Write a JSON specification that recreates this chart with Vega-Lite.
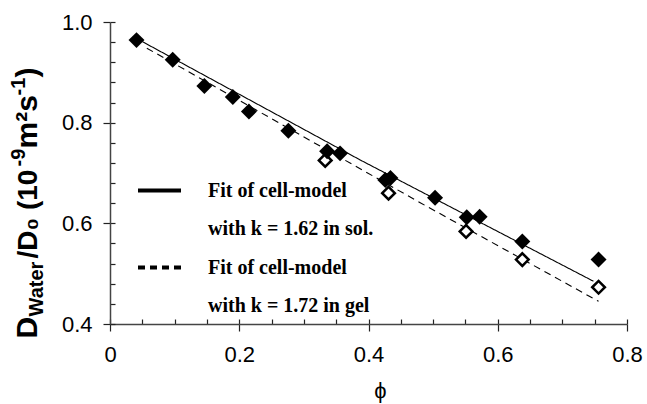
{
  "$schema": "https://vega.github.io/schema/vega-lite/v6.json",
  "width": 517,
  "height": 302,
  "autosize": {"type": "none"},
  "padding": {"left": 110, "top": 22, "right": 20, "bottom": 80},
  "background": "white",
  "config": {
    "view": {"stroke": null},
    "axis": {"grid": false, "domainColor": "#444", "domainWidth": 1.5, "tickColor": "#222", "tickWidth": 1.2, "labelColor": "black", "titleColor": "black",
      "titleFont": "Liberation Sans", "titleFontWeight": "bold"}
  },
  "datasets": {
    "sol": [
      {"phi": 0.041, "D": 0.964}, {"phi": 0.097, "D": 0.925}, {"phi": 0.146, "D": 0.873},
      {"phi": 0.190, "D": 0.851}, {"phi": 0.215, "D": 0.822}, {"phi": 0.276, "D": 0.784},
      {"phi": 0.336, "D": 0.743}, {"phi": 0.356, "D": 0.739}, {"phi": 0.426, "D": 0.686},
      {"phi": 0.434, "D": 0.690}, {"phi": 0.503, "D": 0.651}, {"phi": 0.552, "D": 0.612},
      {"phi": 0.572, "D": 0.613}, {"phi": 0.638, "D": 0.564}, {"phi": 0.756, "D": 0.528}
    ],
    "gel": [
      {"phi": 0.333, "D": 0.725}, {"phi": 0.431, "D": 0.660}, {"phi": 0.551, "D": 0.584},
      {"phi": 0.638, "D": 0.528}, {"phi": 0.756, "D": 0.473}
    ],
    "fits": [
      {"series": "sol", "model": "with k = 1.62 in sol.", "phi": 0.05, "D": 0.961},
      {"series": "sol", "model": "with k = 1.62 in sol.", "phi": 0.387, "D": 0.726},
      {"series": "sol", "model": "with k = 1.62 in sol.", "phi": 0.748, "D": 0.485},
      {"series": "gel", "model": "with k = 1.72 in gel", "phi": 0.057, "D": 0.948},
      {"series": "gel", "model": "with k = 1.72 in gel", "phi": 0.48, "D": 0.641},
      {"series": "gel", "model": "with k = 1.72 in gel", "phi": 0.756, "D": 0.445}
    ]
  },
  "layer": [
    {
      "data": {"name": "fits"},
      "transform": [{"filter": "datum.series === 'sol'"}],
      "mark": {"type": "line", "strokeWidth": 1.1},
      "encoding": {
        "x": {"field": "phi", "type": "quantitative", "scale": {"domain": [0, 0.8], "nice": false, "zero": false},
          "axis": {"orient": "bottom", "domain": false, "ticks": false, "labels": false,
            "title": "m²s", "titleFontSize": 30, "titleAngle": 270, "titleAlign": "left", "titleBaseline": "alphabetic", "titleX": -74, "titleY": -176}},
        "y": {"field": "D", "type": "quantitative", "scale": {"domain": [0.4, 1.0], "nice": false, "zero": false},
          "axis": {"orient": "left", "domain": false, "ticks": false, "labels": false,
            "title": "-9", "titleFontSize": 20, "titleAngle": 270, "titleAlign": "left", "titleBaseline": "alphabetic", "titleX": -86, "titleY": 144}},
        "strokeDash": {"field": "series", "type": "nominal",
          "scale": {"domain": ["sol", "gel"], "range": [[1, 0], [7, 5]]},
          "legend": {"orient": "none", "legendX": 26, "legendY": 145, "padding": 0, "title": null,
            "symbolType": "stroke", "symbolSize": 1849, "symbolStrokeWidth": 4, "symbolStrokeColor": "black",
            "labelExpr": "'Fit of cell-model'", "labelFont": "Liberation Serif", "labelFontWeight": "bold",
            "labelFontSize": 20, "labelColor": "black", "labelOffset": 25, "labelLimit": 400, "rowPadding": 43,
            "encode": {"symbols": {"update": {"strokeDash": {"signal": "datum.value === 'gel' ? [3, 3] : [1, 0]"}}}}}},
        "color": {"field": "model", "type": "nominal",
          "scale": {"domain": ["with k = 1.62 in sol.", "with k = 1.72 in gel"], "range": ["black", "black"]},
          "legend": {"orient": "none", "legendX": 26, "legendY": 183, "padding": 0, "title": null,
            "symbolType": "stroke", "symbolSize": 1849, "symbolStrokeWidth": 4, "symbolOpacity": 0,
            "labelFont": "Liberation Serif", "labelFontWeight": "bold",
            "labelFontSize": 20, "labelColor": "black", "labelOffset": 25, "labelLimit": 400, "rowPadding": 43}}
      }
    },
    {
      "data": {"name": "fits"},
      "transform": [{"filter": "datum.series === 'gel'"}],
      "mark": {"type": "line", "strokeWidth": 1.1},
      "encoding": {
        "x": {"field": "phi", "type": "quantitative", "scale": {"domain": [0, 0.8], "nice": false, "zero": false},
          "axis": {"orient": "bottom", "domain": false, "ticks": false, "labels": false,
            "title": ")", "titleFontSize": 30, "titleAngle": 270, "titleAlign": "left", "titleBaseline": "alphabetic", "titleX": -74, "titleY": -247}},
        "y": {"field": "D", "type": "quantitative", "scale": {"domain": [0.4, 1.0], "nice": false, "zero": false},
          "axis": {"orient": "left", "domain": false, "ticks": false, "labels": false,
            "title": "-1", "titleFontSize": 20, "titleAngle": 270, "titleAlign": "left", "titleBaseline": "alphabetic", "titleX": -86, "titleY": 73}},
        "strokeDash": {"field": "series", "type": "nominal", "scale": {"domain": ["sol", "gel"], "range": [[1, 0], [7, 5]]}},
        "color": {"field": "model", "type": "nominal", "scale": {"domain": ["with k = 1.62 in sol.", "with k = 1.72 in gel"], "range": ["black", "black"]}}
      }
    },
    {
      "data": {"name": "gel"},
      "mark": {"type": "point", "shape": "diamond", "filled": false, "fill": "white", "fillOpacity": 1, "stroke": "black", "strokeWidth": 2.5, "size": 160, "opacity": 1},
      "encoding": {
        "x": {"field": "phi", "type": "quantitative", "scale": {"domain": [0, 0.8], "nice": false, "zero": false},
          "axis": {"orient": "bottom", "values": [0, 0.05, 0.1, 0.15, 0.2, 0.25, 0.3, 0.35, 0.4, 0.45, 0.5, 0.55, 0.6, 0.65, 0.7, 0.75, 0.8],
            "tickSize": -5, "labels": false, "domain": false,
            "title": "/D₀ (10", "titleFontSize": 28, "titleAngle": 270, "titleAlign": "left", "titleBaseline": "alphabetic", "titleX": -74, "titleY": -66}},
        "y": {"field": "D", "type": "quantitative", "scale": {"domain": [0.4, 1.0], "nice": false, "zero": false},
          "axis": {"orient": "left", "values": [0.4, 0.44, 0.48, 0.52, 0.56, 0.6, 0.64, 0.68, 0.72, 0.76, 0.8, 0.84, 0.88, 0.92, 0.96, 1.0],
            "tickSize": -5, "labels": false, "domain": false,
            "title": "Water", "titleFontSize": 20, "titleAngle": 270, "titleAlign": "left", "titleBaseline": "alphabetic", "titleX": -68, "titleY": 294}}
      }
    },
    {
      "data": {"name": "sol"},
      "mark": {"type": "point", "shape": "diamond", "filled": true, "fill": "black", "size": 255, "opacity": 1},
      "encoding": {
        "x": {"field": "phi", "type": "quantitative", "scale": {"domain": [0, 0.8], "nice": false, "zero": false},
          "axis": {"orient": "bottom", "values": [0, 0.2, 0.4, 0.6, 0.8], "format": ".1~f", "tickSize": 7,
            "labelFont": "Liberation Sans", "labelFontSize": 22, "labelPadding": 13, "labelFlush": false, "labelOverlap": false,
            "title": "ϕ", "titleFontSize": 22, "titleFontWeight": "normal", "titleAlign": "center",
            "titleX": 270, "titleY": 66, "titleBaseline": "middle"}},
        "y": {"field": "D", "type": "quantitative", "scale": {"domain": [0.4, 1.0], "nice": false, "zero": false},
          "axis": {"orient": "left", "values": [0.4, 0.6, 0.8, 1.0], "format": ".1f", "tickSize": 7,
            "labelFont": "Liberation Sans", "labelFontSize": 22, "labelPadding": 11, "labelOverlap": false,
            "title": "D", "titleFontSize": 30, "titleAngle": 270, "titleAlign": "left", "titleBaseline": "alphabetic", "titleX": -74, "titleY": 316}}
      }
    }
  ],
  "resolve": {"axis": {"x": "independent", "y": "independent"}}
}
